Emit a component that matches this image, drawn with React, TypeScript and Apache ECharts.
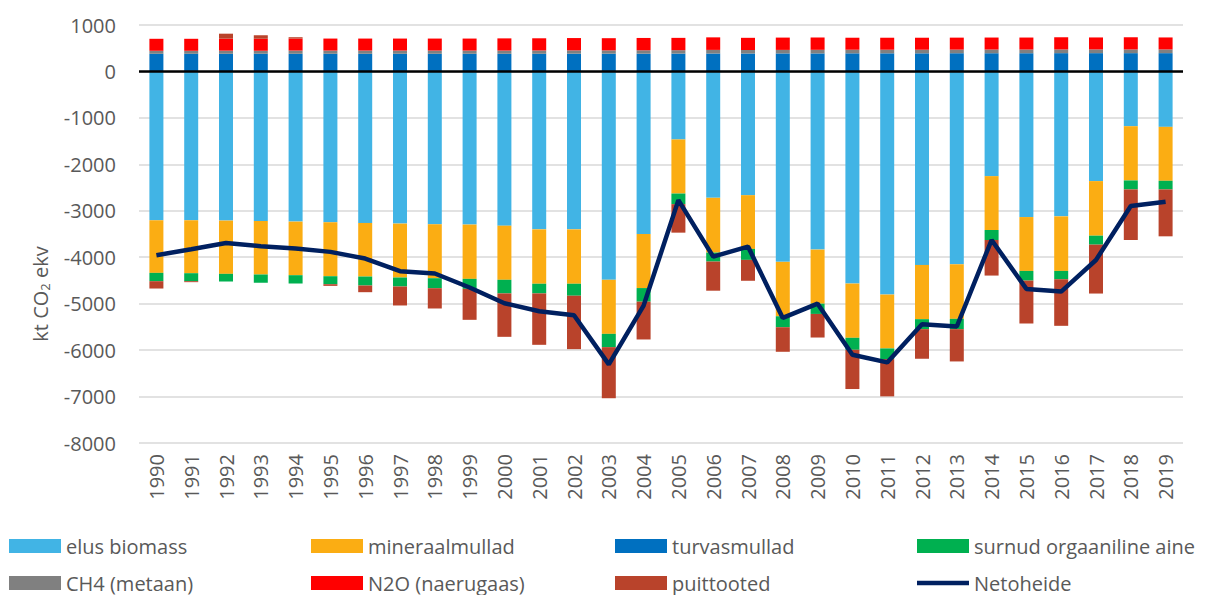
import React, { useEffect, useRef } from "react";
import * as echarts from "echarts";

const years = [
  "1990", "1991", "1992", "1993", "1994", "1995", "1996", "1997", "1998", "1999",
  "2000", "2001", "2002", "2003", "2004", "2005", "2006", "2007", "2008", "2009",
  "2010", "2011", "2012", "2013", "2014", "2015", "2016", "2017", "2018", "2019",
];

const elusBiomass = [
  -3204, -3204, -3211, -3218, -3233, -3247, -3262, -3276, -3290, -3297,
  -3321, -3400, -3400, -4486, -3500, -1464, -2721, -2664, -4100, -3836,
  -4567, -4804, -4166, -4152, -2254, -3135, -3120, -2361, -1179, -1193,
];
const mineraalmullad = [
  -1133, -1140, -1147, -1155, -1154, -1162, -1154, -1161, -1162, -1169,
  -1165, -1171, -1171, -1164, -1164, -1165, -1179, -1157, -1171, -1164,
  -1168, -1160, -1168, -1175, -1160, -1160, -1175, -1175, -1168, -1161,
];
const turvasmullad = [
  380, 380, 380, 380, 380, 380, 380, 380, 380, 380,
  380, 380, 382, 382, 382, 384, 386, 386, 388, 388,
  390, 390, 390, 392, 392, 392, 394, 394, 394, 394,
];
const surnudOrgaaniline = [
  -179, -172, -165, -179, -179, -172, -193, -193, -215, -215,
  -293, -208, -258, -286, -293, -228, -193, -236, -236, -221,
  -258, -229, -215, -222, -215, -208, -179, -193, -193, -186,
];
const ch4 = [
  65, 65, 68, 68, 70, 70, 70, 70, 70, 70,
  70, 72, 72, 72, 74, 74, 78, 76, 76, 78,
  78, 78, 78, 78, 80, 80, 80, 80, 80, 80,
];
const n2o = [
  258, 258, 258, 258, 258, 258, 258, 258, 258, 258,
  262, 262, 265, 262, 265, 265, 270, 262, 265, 265,
  258, 258, 258, 258, 258, 258, 262, 258, 262, 258,
];
const puittooted = [
  -158, -21, 107, 72, 29, -36, -144, -409, -437, -667,
  -935, -1107, -1150, -1100, -814, -614, -628, -450, -529, -508,
  -845, -803, -637, -695, -766, -924, -1003, -1053, -1089, -1010,
];
const netoheide = [
  -3957, -3828, -3692, -3763, -3813, -3885, -4029, -4301, -4351, -4652,
  -4990, -5164, -5250, -6307, -5043, -2771, -3986, -3771, -5307, -5000,
  -6100, -6265, -5441, -5491, -3629, -4682, -4739, -4059, -2898, -2805,
];

const legendRow1 = ["elus biomass", "mineraalmullad", "turvasmullad", "surnud orgaaniline aine"];
const legendRow2 = ["CH4 (metaan)", "N2O (naerugaas)", "puittooted", "Netoheide"];

const yMin = -8000;
const yMax = 1000;
const yInterval = 1000;

const FONT = "Open Sans";
const FONT_SIZE = 20;
const TEXT_COLOR = "#595959";

export default function App() {
  const ref = useRef<HTMLDivElement>(null);

  useEffect(() => {
    if (!ref.current) return;
    const chart = echarts.init(ref.current, null, { renderer: "svg" });

    const barBase = {
      type: "bar",
      stack: "total",
      barWidth: 14,
    };

    const legendText = { fontFamily: FONT, fontSize: FONT_SIZE, color: TEXT_COLOR, lineHeight: 20 };
    const colLeft = [9, 311, 615, 917];
    const rowTop = [536, 573];
    const legends: any[] = [];
    [legendRow1, legendRow2].forEach((row, r) => {
      row.forEach((name, c) => {
        const isLine = name === "Netoheide";
        legends.push({
          orient: "horizontal",
          left: colLeft[c],
          top: rowTop[r],
          padding: 0,
          itemWidth: 52,
          itemHeight: 14,
          itemGap: 0,
          icon: isLine ? "path://M0,0H52V4.5H0Z" : "rect",
          itemStyle: { borderWidth: 0 },
          textStyle: legendText,
          data: [name],
        });
      });
    });

    chart.setOption({
      animation: false,
      grid: { left: 139, right: 22, top: 25, bottom: 152, containLabel: false },
      xAxis: {
        type: "category",
        data: years,
        axisLine: { show: false, onZero: false },
        axisTick: { show: false },
        axisLabel: {
          rotate: 90,
          margin: 11,
          fontFamily: FONT,
          fontSize: FONT_SIZE,
          color: TEXT_COLOR,
        },
      },
      yAxis: {
        type: "value",
        min: yMin,
        max: yMax,
        interval: yInterval,
        axisLine: { show: false },
        axisTick: { show: false },
        splitLine: { lineStyle: { color: "#d9d9d9", width: 1.5 } },
        axisLabel: {
          margin: 23,
          fontFamily: FONT,
          fontSize: FONT_SIZE,
          color: TEXT_COLOR,
          formatter: (v: number) => String(v),
        },
      },
      legend: legends,
      graphic: [
        {
          type: "text",
          x: 40,
          y: 294,
          rotation: Math.PI / 2,
          style: {
            text: "kt CO{sub|2} ekv",
            fontFamily: FONT,
            fontSize: FONT_SIZE,
            fill: TEXT_COLOR,
            align: "center",
            verticalAlign: "middle",
            rich: {
              sub: { fontFamily: FONT, fontSize: 13, fill: TEXT_COLOR, padding: [10, 0, 0, 0] },
            },
          },
        },
      ],
      series: [
        { ...barBase, name: "elus biomass", data: elusBiomass, itemStyle: { color: "#41b4e5" } },
        { ...barBase, name: "mineraalmullad", data: mineraalmullad, itemStyle: { color: "#fbad13" } },
        { ...barBase, name: "turvasmullad", data: turvasmullad, itemStyle: { color: "#0070c0" } },
        { ...barBase, name: "surnud orgaaniline aine", data: surnudOrgaaniline, itemStyle: { color: "#00b050" } },
        { ...barBase, name: "CH4 (metaan)", data: ch4, itemStyle: { color: "#808080" } },
        { ...barBase, name: "N2O (naerugaas)", data: n2o, itemStyle: { color: "#ff0000" } },
        { ...barBase, name: "puittooted", data: puittooted, itemStyle: { color: "#b9432b" } },
        {
          type: "line",
          name: "Netoheide",
          data: netoheide,
          symbol: "none",
          z: 5,
          lineStyle: { color: "#002060", width: 4.5 },
          itemStyle: { color: "#002060" },
          markLine: {
            silent: true,
            symbol: "none",
            label: { show: false },
            lineStyle: { color: "#000000", width: 2.5, type: "solid" },
            data: [{ yAxis: 0 }],
          },
        },
      ],
    });

    return () => chart.dispose();
  }, []);

  return (
    <div
      ref={ref}
      style={{ position: "fixed", left: 0, top: 0, width: 1205, height: 595, background: "#fff" }}
    />
  );
}
